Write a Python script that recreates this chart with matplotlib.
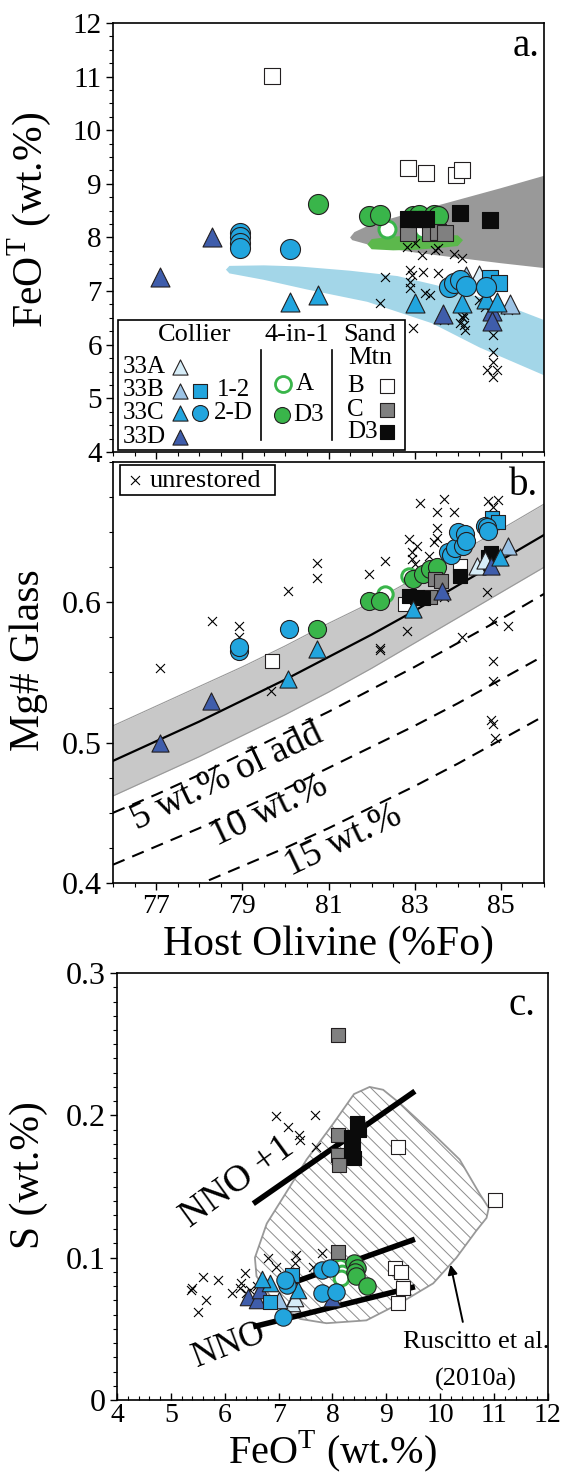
import numpy as np
import matplotlib

matplotlib.use("Agg")
import matplotlib.pyplot as plt
from matplotlib.patches import Polygon, Rectangle
from matplotlib.ticker import MultipleLocator, FixedLocator

plt.rcParams.update({
    "font.family": "Liberation Serif",
    "mathtext.fontset": "custom",
    "mathtext.rm": "Liberation Serif",
    "xtick.direction": "out",
    "ytick.direction": "out",
    "axes.linewidth": 1.2,
})

C33A = "#d6ecf7"
C33B = "#9cc3e5"
C33C = "#22a5de"
C33D = "#3f5dab"
GREEN = "#39b54a"
SMC = "#808080"
SMD3 = "#0b0b0b"
EDGE = "#231f20"

# ---------------- panel a: FeOT vs host Fo ----------------
A_33A_FO = [84.5]
A_33A_FE = [7.3]
A_33B_FO = [84.2, 85.2]
A_33B_FE = [7.28, 6.75]
A_33C_FO = [80.1, 80.75, 83.0, 84.1, 84.65, 84.9]
A_33C_FE = [6.8, 6.92, 6.78, 6.78, 6.85, 6.8]
A_33D_FO = [77.1, 78.3, 83.65, 84.8, 84.8]
A_33D_FE = [7.26, 8.0, 6.58, 6.62, 6.45]
A_12_FO = [84.75, 84.95]
A_12_FE = [7.24, 7.15]
A_2D_FO = [78.95, 78.95, 78.95, 78.95, 80.1, 83.8, 83.9, 84.05, 84.2, 84.65]
A_2D_FE = [8.08, 8.0, 7.9, 7.8, 7.78, 7.08, 7.15, 7.2, 7.1, 7.07]
A_4A_FO = [82.35, 83.2]
A_4A_FE = [8.15, 8.15]
A_4D3_FO = [80.75, 81.95, 82.2, 82.95, 83.1, 83.45, 83.55]
A_4D3_FE = [8.62, 8.4, 8.42, 8.4, 8.42, 8.42, 8.4]
A_SMB_FO = [79.7, 82.85, 83.25, 83.95, 84.1]
A_SMB_FE = [11.02, 9.3, 9.2, 9.17, 9.25]
A_SMC_FO = [82.85, 83.35, 83.55, 83.7]
A_SMC_FE = [8.08, 8.08, 8.1, 8.08]
A_SMD3_FO = [82.85, 83.0, 83.1, 83.25, 84.05, 84.75]
A_SMD3_FE = [8.35, 8.35, 8.35, 8.35, 8.46, 8.33]
A_UNR_FO = [82.82, 83.01, 83.17, 83.48, 83.55, 83.9, 84.09, 82.32, 82.9, 82.94, 83.2, 83.55,
            82.9, 82.9, 82.2, 83.24, 83.36, 82.97, 84.13, 84.17, 84.82, 84.82, 84.82, 84.67,
            84.9, 84.82, 84.48, 84.63, 85.17, 83.67, 84.15, 84.15, 84.09, 84.06]
A_UNR_FE = [7.83, 7.89, 7.67, 7.76, 7.8, 7.7, 7.61, 7.27, 7.39, 7.3, 7.36, 7.33,
            7.17, 7.05, 6.77, 6.96, 6.93, 6.31, 6.5, 6.27, 6.18, 5.87, 5.68, 5.53,
            5.53, 5.4, 6.83, 6.7, 6.65, 6.46, 6.55, 6.36, 6.52, 6.4]
# fields behind the data
GREY_FIELD_FO = [81.5, 81.6, 82.0, 83.0, 84.0, 85.0, 86.0, 86.0, 85.0, 84.0, 83.0, 82.0, 81.55]
GREY_FIELD_FE = [8.0, 8.1, 8.25, 8.48, 8.7, 8.92, 9.15, 7.43, 7.52, 7.62, 7.72, 7.85, 7.95]
GREEN_FIELD_FO = [81.9, 82.0, 82.5, 83.0, 83.6, 84.0, 84.12, 84.0, 83.5, 83.0, 82.5, 82.0]
GREEN_FIELD_FE = [7.87, 7.97, 8.02, 8.03, 8.05, 8.04, 7.95, 7.84, 7.8, 7.77, 7.76, 7.78]
BLUE_FIELD_FO = [78.62, 78.7, 79.5, 80.3, 81.5, 82.6, 83.5, 84.9, 86.0,
                 86.0, 84.5, 83.4, 81.9, 80.5, 79.5, 78.7]
BLUE_FIELD_FE = [7.4, 7.47, 7.48, 7.46, 7.38, 7.28, 7.11, 6.8, 6.46,
                 5.43, 5.95, 6.4, 6.8, 7.03, 7.21, 7.33]

# ---------------- panel b: Mg# glass vs host Fo ----------------
B_33A_FO = [84.45, 84.63]
B_33A_MG = [0.626, 0.63]
B_33B_FO = [85.17]
B_33B_MG = [0.640]
B_33C_FO = [80.06, 80.74, 82.97, 84.98]
B_33C_MG = [0.545, 0.5664, 0.595, 0.632]
B_33D_FO = [77.09, 78.28, 83.63, 84.78]
B_33D_MG = [0.4998, 0.5295, 0.608, 0.626]
B_12_FO = [84.8, 84.94]
B_12_MG = [0.66, 0.657]
B_2D_FO = [78.93, 78.93, 80.09, 83.78, 83.85, 83.94, 84.01, 84.13, 84.17, 84.2, 84.63, 84.67, 84.71]
B_2D_MG = [0.565, 0.568, 0.5807, 0.6355, 0.634, 0.639, 0.6498, 0.640, 0.6486, 0.6438, 0.6545, 0.6536, 0.651]
B_4A_FO = [82.32, 82.86]
B_4A_MG = [0.6057, 0.6188]
B_4D3_FO = [80.74, 81.94, 82.2, 82.97, 83.2, 83.36, 83.51]
B_4D3_MG = [0.5807, 0.601, 0.601, 0.6164, 0.62, 0.6236, 0.6248]
B_SMB_FO = [79.68, 82.78, 84.05]
B_SMB_MG = [0.558, 0.5986, 0.626]
B_SMC_FO = [83.36, 83.48, 83.6]
B_SMC_MG = [0.6036, 0.6164, 0.615]
B_SMD3_FO = [82.86, 83.05, 83.2, 84.05, 84.71, 84.76]
B_SMD3_MG = [0.6045, 0.6036, 0.603, 0.619, 0.632, 0.635]
B_UNR_FO = [77.09, 79.66, 82.2, 84.82, 84.82, 84.78, 84.82, 84.86, 78.3, 78.93, 78.93, 80.06,
            80.74, 80.74, 81.95, 82.32, 82.86, 83.13, 83.67, 83.51, 83.9, 83.51, 83.51, 83.45,
            82.82, 84.67, 84.82, 85.17, 84.1, 84.71, 84.94, 84.82, 82.93, 82.93, 83.32, 83.67,
            82.2, 83.0, 83.05]
B_UNR_MG = [0.553, 0.5366, 0.566, 0.558, 0.5436, 0.5164, 0.513, 0.503, 0.5866, 0.583, 0.575, 0.608,
            0.628, 0.617, 0.62, 0.6295, 0.645, 0.671, 0.6736, 0.664, 0.6645, 0.653, 0.646, 0.643,
            0.5795, 0.607, 0.5866, 0.583, 0.575, 0.6724, 0.673, 0.668, 0.6357, 0.631, 0.633, 0.6035,
            0.5676, 0.627, 0.64]
# equilibrium curve, its band and olivine-addition curves (read at whole Fo)
CURVE_FO = [76, 77, 78, 79, 80, 81, 82, 83, 84, 85, 86]
EQ_MG = [0.487, 0.501, 0.515, 0.530, 0.545, 0.561, 0.577, 0.594, 0.612, 0.630, 0.648]
EQ_HI = [0.512, 0.526, 0.540, 0.554, 0.569, 0.585, 0.600, 0.617, 0.635, 0.652, 0.670]
EQ_LO = [0.462, 0.476, 0.490, 0.505, 0.520, 0.536, 0.553, 0.571, 0.589, 0.607, 0.625]
OL5_MG = [0.450, 0.463, 0.477, 0.492, 0.507, 0.522, 0.538, 0.554, 0.571, 0.588, 0.606]
OL10_MG = [0.413, 0.426, 0.439, 0.453, 0.467, 0.482, 0.497, 0.512, 0.528, 0.545, 0.562]
OL15_MG = [0.373, 0.386, 0.399, 0.412, 0.425, 0.439, 0.454, 0.469, 0.485, 0.502, 0.519]

# ---------------- panel c: S vs FeOT ----------------
C_33A_FE = [7.25, 7.3]
C_33A_S = [0.068, 0.072]
C_33B_FE = [7.0]
C_33B_S = [0.07]
C_33C_FE = [6.84, 7.36, 6.7]
C_33C_S = [0.082, 0.0773, 0.085]
C_33D_FE = [6.44, 6.59, 6.65, 8.0]
C_33D_S = [0.0726, 0.0703, 0.077, 0.0715]
C_12_FE = [7.24, 6.84]
C_12_S = [0.0878, 0.069]
C_2D_FE = [7.8, 7.15, 7.12, 7.8, 8.07, 7.09, 7.95]
C_2D_S = [0.0913, 0.0808, 0.0843, 0.075, 0.0761, 0.0585, 0.0925]
C_4A_FE = [8.14, 8.17, 8.15]
C_4A_S = [0.0937, 0.089, 0.086]
C_4D3_FE = [8.4, 8.45, 8.42, 8.44, 8.65]
C_4D3_S = [0.096, 0.093, 0.09, 0.087, 0.08]
C_SMB_FE = [9.21, 11.01, 9.16, 9.28, 9.31, 9.22]
C_SMB_S = [0.178, 0.1405, 0.0925, 0.09, 0.0785, 0.068]
C_SMC_FE = [8.1, 8.1, 8.1, 8.12, 8.1]
C_SMC_S = [0.2565, 0.186, 0.172, 0.165, 0.104]
C_SMD3_FE = [8.45, 8.5, 8.35, 8.35, 8.4, 8.38]
C_SMD3_S = [0.195, 0.19, 0.185, 0.175, 0.17, 0.18]
C_UNR_FE = [6.95, 7.18, 7.38, 7.4, 7.67, 7.69, 5.39, 5.37, 5.6, 5.88, 5.66, 5.51, 6.13,
            6.31, 6.37, 6.28, 6.47, 6.81, 6.96, 7.33, 7.3, 7.64, 7.8, 6.59, 6.39]
C_UNR_S = [0.1995, 0.192, 0.186, 0.183, 0.2002, 0.178, 0.0785, 0.0775, 0.0866, 0.0843, 0.0703,
           0.062, 0.075, 0.082, 0.089, 0.0785, 0.0773, 0.0996, 0.0937, 0.1019, 0.096, 0.0937,
           0.103, 0.08, 0.075]
RUSCITTO_FE = [8.69, 8.94, 9.25, 9.87, 10.36, 10.73, 10.9, 10.86, 10.67, 10.3, 9.87, 9.25, 8.63,
               7.89, 7.4, 6.9, 6.59, 6.56, 6.78, 7.21, 7.52, 8.01, 8.4]
RUSCITTO_S = [0.220, 0.218, 0.2085, 0.187, 0.169, 0.145, 0.135, 0.128, 0.119, 0.1, 0.082, 0.068,
              0.056, 0.054, 0.057, 0.07, 0.087, 0.1, 0.124, 0.15, 0.169, 0.194, 0.215]
NNO1_FE = [6.53, 9.53]
NNO1_S = [0.138, 0.217]
NNO_A_FE = [7.2, 9.53]
NNO_A_S = [0.0816, 0.113]
NNO_B_FE = [6.53, 9.53]
NNO_B_S = [0.0515, 0.0796]

# marker styles: (marker, face, edge, relative size)
STYLE = {
    "unr": ("x", "k", "k", 0.45),
    "4A": ("o", "white", GREEN, 1.0),
    "4D3": ("o", GREEN, EDGE, 1.0),
    "SMB": ("s", "white", EDGE, 0.83),
    "SMC": ("s", SMC, EDGE, 0.83),
    "SMD3": ("s", SMD3, SMD3, 0.83),
    "33A": ("^", C33A, EDGE, 0.95),
    "33B": ("^", C33B, EDGE, 0.95),
    "33D": ("^", C33D, EDGE, 0.95),
    "33C": ("^", C33C, EDGE, 0.95),
    "12": ("s", C33C, EDGE, 0.83),
    "2D": ("o", C33C, EDGE, 1.0),
}


def pts(ax, x, y, kind, size=14.4, **kw):
    m, fc, ec, rel = STYLE[kind]
    ms = size * rel
    if kind == "unr":
        ax.scatter(x, y, s=ms ** 2, marker=m, c="k", linewidths=0.8, zorder=3, **kw)
    elif kind == "4A":
        ax.scatter(x, y, s=(ms * 0.85) ** 2, marker=m, facecolors=fc, edgecolors=ec,
                   linewidths=2.2, zorder=4, **kw)
    else:
        ax.scatter(x, y, s=ms ** 2, marker=m, facecolors=fc, edgecolors=ec,
                   linewidths=0.8, zorder=4, **kw)


def style_axis(ax, ysize=20):
    ax.tick_params(which="major", length=5, width=1, labelsize=20, pad=3)
    ax.tick_params(which="minor", length=3, width=0.8)
    ax.tick_params(axis="y", labelsize=ysize)


fig = plt.figure(figsize=(5.64, 14.75), dpi=100)
ax_a = fig.add_axes([0.2004, 0.6936, 0.7642, 0.2908])
ax_b = fig.add_axes([0.2004, 0.4014, 0.7642, 0.2854])
ax_c = fig.add_axes([0.2074, 0.0508, 0.7642, 0.2895])

# ---- panel a
ax_a.fill(GREY_FIELD_FO, GREY_FIELD_FE, color="#999999", lw=0, zorder=1)
ax_a.fill(GREEN_FIELD_FO, GREEN_FIELD_FE, color="#5cb84c", lw=0, zorder=1.5)
ax_a.fill(BLUE_FIELD_FO, BLUE_FIELD_FE, color="#a3d6e8", lw=0, zorder=1)
pts(ax_a, A_UNR_FO, A_UNR_FE, "unr")
for k, (x, y) in {"4A": (A_4A_FO, A_4A_FE), "4D3": (A_4D3_FO, A_4D3_FE),
                  "SMB": (A_SMB_FO, A_SMB_FE), "SMC": (A_SMC_FO, A_SMC_FE),
                  "SMD3": (A_SMD3_FO, A_SMD3_FE), "33A": (A_33A_FO, A_33A_FE),
                  "33B": (A_33B_FO, A_33B_FE), "33D": (A_33D_FO, A_33D_FE),
                  "33C": (A_33C_FO, A_33C_FE), "12": (A_12_FO, A_12_FE),
                  "2D": (A_2D_FO, A_2D_FE)}.items():
    pts(ax_a, x, y, k)
ax_a.set_xlim(76, 86)
ax_a.set_ylim(4, 12)
ax_a.xaxis.set_major_locator(FixedLocator([77, 79, 81, 83, 85]))
ax_a.xaxis.set_minor_locator(MultipleLocator(0.5))
ax_a.yaxis.set_major_locator(MultipleLocator(1))
ax_a.yaxis.set_minor_locator(MultipleLocator(0.25))
style_axis(ax_a, ysize=21)
ax_a.tick_params(labelbottom=False)
ax_a.set_ylabel("FeO$^{\\mathrm{T}}$ (wt.%)", fontsize=30)
ax_a.yaxis.set_label_coords(-0.14, 0.54)
ax_a.text(0.99, 0.988, "a.", transform=ax_a.transAxes, ha="right", va="top", fontsize=28)

# legend box of panel a
T = ax_a.transAxes
ax_a.add_patch(Rectangle((0.0116, 0.0047), 0.666, 0.303, transform=T, fill=True,
                         facecolor="white", edgecolor="k", lw=1.2, zorder=6))
lg = dict(transform=T, fontsize=19, zorder=7, va="center")
ax_a.text(0.19, 0.272, "Collier", ha="center", **lg)
ax_a.text(0.427, 0.272, "4-in-1", ha="center", **lg)
ax_a.text(0.596, 0.272, "Sand", ha="center", **lg)
ax_a.text(0.596, 0.218, "Mtn", ha="center", **lg)
lg["fontsize"] = 18
for lab, fy in [("33A", 0.198), ("33B", 0.1445), ("33C", 0.0909), ("33D", 0.035)]:
    ax_a.text(0.0232, fy, lab, ha="left", **lg)
ax_a.text(0.24, 0.1445, "1-2", ha="left", **lg)
ax_a.text(0.235, 0.0909, "2-D", ha="left", **lg)
ax_a.text(0.424, 0.1585, "A", ha="left", **lg)
ax_a.text(0.418, 0.0862, "D3", ha="left", **lg)
ax_a.text(0.543, 0.154, "B", ha="left", **lg)
ax_a.text(0.543, 0.098, "C", ha="left", **lg)
ax_a.text(0.543, 0.0466, "D3", ha="left", **lg)
leg_marks = [("33A", 0.155, 0.198), ("33B", 0.155, 0.141), ("12", 0.202, 0.141),
             ("33C", 0.155, 0.0909), ("2D", 0.202, 0.0909), ("33D", 0.155, 0.035),
             ("4A", 0.394, 0.1585), ("4D3", 0.392, 0.0862),
             ("SMB", 0.636, 0.154), ("SMC", 0.636, 0.098), ("SMD3", 0.636, 0.0466)]
for k, fx, fy in leg_marks:
    m, fc, ec, rel = STYLE[k]
    lw = 2.0 if k == "4A" else 0.8
    ax_a.scatter([fx], [fy], s=(11.5 * rel) ** 2, marker=m, facecolors=fc, edgecolors=ec,
                 linewidths=lw, transform=T, zorder=8, clip_on=False)
for fx in (0.343, 0.508):
    ax_a.plot([fx, fx], [0.028, 0.238], color="k", lw=1.2, transform=T, zorder=7)

# ---- panel b
ax_b.fill_between(CURVE_FO, EQ_LO, EQ_HI, color="#c8c8c8", lw=0, zorder=1)
ax_b.plot(CURVE_FO, EQ_HI, color="#999999", lw=0.8, zorder=1.2)
ax_b.plot(CURVE_FO, EQ_LO, color="#999999", lw=0.8, zorder=1.2)
ax_b.plot(CURVE_FO, EQ_MG, color="k", lw=1.6, zorder=2)
for yv in (OL5_MG, OL10_MG, OL15_MG):
    ax_b.plot(CURVE_FO, yv, color="k", lw=1.5, ls=(0, (6, 4)), zorder=2)
pts(ax_b, B_UNR_FO, B_UNR_MG, "unr")
for k, (x, y) in {"4A": (B_4A_FO, B_4A_MG), "4D3": (B_4D3_FO, B_4D3_MG),
                  "SMB": (B_SMB_FO, B_SMB_MG), "SMC": (B_SMC_FO, B_SMC_MG),
                  "SMD3": (B_SMD3_FO, B_SMD3_MG), "33A": (B_33A_FO, B_33A_MG),
                  "33B": (B_33B_FO, B_33B_MG), "33D": (B_33D_FO, B_33D_MG),
                  "33C": (B_33C_FO, B_33C_MG), "12": (B_12_FO, B_12_MG),
                  "2D": (B_2D_FO, B_2D_MG)}.items():
    pts(ax_b, x, y, k, size=13)
ax_b.set_xlim(76, 86)
ax_b.set_ylim(0.4, 0.7)
ax_b.xaxis.set_major_locator(FixedLocator([77, 79, 81, 83, 85]))
ax_b.xaxis.set_minor_locator(MultipleLocator(0.5))
ax_b.set_yticks([0.4, 0.5, 0.6])
ax_b.yaxis.set_minor_locator(MultipleLocator(0.025))
style_axis(ax_b, ysize=23)
ax_b.set_ylabel("Mg# Glass", fontsize=30)
ax_b.yaxis.set_label_coords(-0.15, 0.53)
ax_b.set_xlabel("Host Olivine (%Fo)", fontsize=30)
ax_b.xaxis.set_label_coords(0.5, -0.1)
ax_b.text(0.986, 0.988, "b.", transform=ax_b.transAxes, ha="right", va="top", fontsize=28)
ax_b.add_patch(Rectangle((0.0162, 0.9216), 0.36, 0.071, transform=ax_b.transAxes,
                         facecolor="white", edgecolor="k", lw=1.2, zorder=6))
ax_b.scatter([0.051], [0.957], s=42, marker="x", c="k", linewidths=0.8,
             transform=ax_b.transAxes, zorder=7)
ax_b.text(0.0858, 0.955, "unrestored", transform=ax_b.transAxes, fontsize=19,
          ha="left", va="center", zorder=7)
ax_b.text(76.55, 0.438, "5 wt.% ol add", fontsize=27, rotation=25.5,
          rotation_mode="anchor", ha="left", va="baseline", zorder=3)
ax_b.text(78.42, 0.426, "10 wt.%", fontsize=27, rotation=25.5,
          rotation_mode="anchor", ha="left", va="baseline", zorder=3)
ax_b.text(80.13, 0.405, "15 wt.%", fontsize=27, rotation=25.5,
          rotation_mode="anchor", ha="left", va="baseline", zorder=3)

# ---- panel c
field = Polygon(np.column_stack([RUSCITTO_FE, RUSCITTO_S]), closed=True,
                facecolor="white", edgecolor="#999999", lw=1.3, zorder=1)
ax_c.add_patch(field)
for k0 in np.arange(-1.0, 1.0, 0.03):
    ln, = ax_c.plot([k0, k0 + 1.0], [1.0, 0.0], color="#8c8c8c", lw=0.7,
                    transform=ax_c.transAxes, zorder=1.1)
    ln.set_clip_path(field)
ax_c.plot(NNO1_FE, NNO1_S, color="k", lw=4, solid_capstyle="butt", zorder=2)
ax_c.plot(NNO_A_FE, NNO_A_S, color="k", lw=4, solid_capstyle="butt", zorder=2)
ax_c.plot(NNO_B_FE, NNO_B_S, color="k", lw=4, solid_capstyle="butt", zorder=2)
pts(ax_c, C_UNR_FE, C_UNR_S, "unr")
for k, (x, y) in {"4A": (C_4A_FE, C_4A_S), "4D3": (C_4D3_FE, C_4D3_S),
                  "SMB": (C_SMB_FE, C_SMB_S), "SMC": (C_SMC_FE, C_SMC_S),
                  "SMD3": (C_SMD3_FE, C_SMD3_S), "33A": (C_33A_FE, C_33A_S),
                  "33B": (C_33B_FE, C_33B_S), "33D": (C_33D_FE, C_33D_S),
                  "33C": (C_33C_FE, C_33C_S), "12": (C_12_FE, C_12_S),
                  "2D": (C_2D_FE, C_2D_S)}.items():
    pts(ax_c, x, y, k, size=12.5)
ax_c.set_xlim(4, 12)
ax_c.set_ylim(0, 0.3)
ax_c.xaxis.set_major_locator(MultipleLocator(1))
ax_c.xaxis.set_minor_locator(MultipleLocator(0.2))
ax_c.set_yticks([0, 0.1, 0.2, 0.3], labels=["0", "0.1", "0.2", "0.3"])
ax_c.yaxis.set_minor_locator(MultipleLocator(0.01))
style_axis(ax_c, ysize=23)
ax_c.tick_params(axis="x", which="both", direction="in", pad=2)
ax_c.set_ylabel("S (wt.%)", fontsize=30)
ax_c.yaxis.set_label_coords(-0.16, 0.527)
ax_c.set_xlabel("FeO$^{\\mathrm{T}}$ (wt.%)", fontsize=29)
ax_c.xaxis.set_label_coords(0.5, -0.066)
ax_c.text(0.97, 0.967, "c.", transform=ax_c.transAxes, ha="right", va="top", fontsize=28)
ax_c.text(5.35, 0.121, "NNO +1", fontsize=27, rotation=36, rotation_mode="anchor",
          ha="left", va="baseline")
ax_c.text(5.48, 0.0234, "NNO", fontsize=25, rotation=21, rotation_mode="anchor",
          ha="left", va="baseline")
ax_c.text(10.66, 0.0365, "Ruscitto et al.", fontsize=19, ha="center", va="baseline")
ax_c.text(10.66, 0.0105, "(2010a)", fontsize=19, ha="center", va="baseline")
ax_c.annotate("", xy=(10.18, 0.097), xytext=(10.43, 0.053),
              arrowprops=dict(arrowstyle="-|>", color="k", lw=1.4, mutation_scale=14))

fig.savefig("out.png", dpi=100)
